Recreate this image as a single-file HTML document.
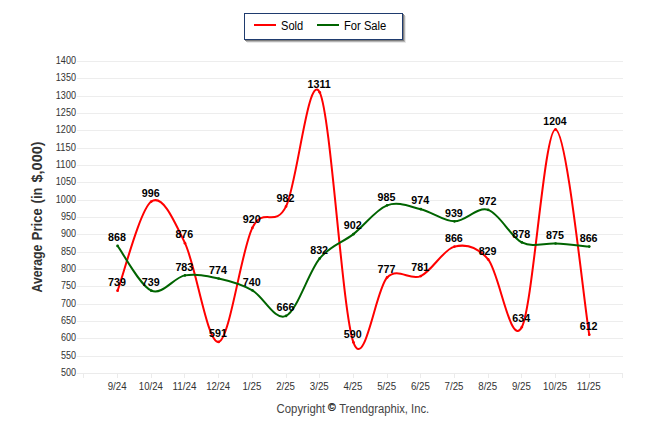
<!DOCTYPE html>
<html><head><meta charset="utf-8"><title>Average Price</title>
<style>html,body{margin:0;padding:0;background:#fff;}svg{display:block;}text{font-family:"Liberation Sans",sans-serif;}</style></head><body>
<svg width="646" height="434" viewBox="0 0 646 434">
<rect width="646" height="434" fill="#ffffff"/>
<g stroke="#ededed" stroke-width="1" shape-rendering="crispEdges">
<line x1="77" x2="623" y1="61.5" y2="61.5"/>
<line x1="77" x2="623" y1="78.5" y2="78.5"/>
<line x1="77" x2="623" y1="96.5" y2="96.5"/>
<line x1="77" x2="623" y1="113.5" y2="113.5"/>
<line x1="77" x2="623" y1="130.5" y2="130.5"/>
<line x1="77" x2="623" y1="148.5" y2="148.5"/>
<line x1="77" x2="623" y1="165.5" y2="165.5"/>
<line x1="77" x2="623" y1="182.5" y2="182.5"/>
<line x1="77" x2="623" y1="200.5" y2="200.5"/>
<line x1="77" x2="623" y1="217.5" y2="217.5"/>
<line x1="77" x2="623" y1="234.5" y2="234.5"/>
<line x1="77" x2="623" y1="252.5" y2="252.5"/>
<line x1="77" x2="623" y1="269.5" y2="269.5"/>
<line x1="77" x2="623" y1="286.5" y2="286.5"/>
<line x1="77" x2="623" y1="304.5" y2="304.5"/>
<line x1="77" x2="623" y1="321.5" y2="321.5"/>
<line x1="77" x2="623" y1="338.5" y2="338.5"/>
<line x1="77" x2="623" y1="356.5" y2="356.5"/>
</g>
<g stroke="#ebebeb" stroke-width="1" shape-rendering="crispEdges">
<line x1="77" x2="623" y1="373.5" y2="373.5"/>
<line x1="83.5" x2="83.5" y1="373" y2="378"/>
<line x1="117.5" x2="117.5" y1="373" y2="378"/>
<line x1="151.5" x2="151.5" y1="373" y2="378"/>
<line x1="184.5" x2="184.5" y1="373" y2="378"/>
<line x1="218.5" x2="218.5" y1="373" y2="378"/>
<line x1="252.5" x2="252.5" y1="373" y2="378"/>
<line x1="286.5" x2="286.5" y1="373" y2="378"/>
<line x1="319.5" x2="319.5" y1="373" y2="378"/>
<line x1="353.5" x2="353.5" y1="373" y2="378"/>
<line x1="387.5" x2="387.5" y1="373" y2="378"/>
<line x1="420.5" x2="420.5" y1="373" y2="378"/>
<line x1="454.5" x2="454.5" y1="373" y2="378"/>
<line x1="488.5" x2="488.5" y1="373" y2="378"/>
<line x1="521.5" x2="521.5" y1="373" y2="378"/>
<line x1="555.5" x2="555.5" y1="373" y2="378"/>
<line x1="589.5" x2="589.5" y1="373" y2="378"/>
<line x1="622.5" x2="622.5" y1="373" y2="378"/>
</g>
<g font-size="11" fill="#333" text-anchor="end">
<text x="76" y="64.00" textLength="20.2" lengthAdjust="spacingAndGlyphs">1400</text>
<text x="76" y="81.00" textLength="20.2" lengthAdjust="spacingAndGlyphs">1350</text>
<text x="76" y="99.00" textLength="20.2" lengthAdjust="spacingAndGlyphs">1300</text>
<text x="76" y="116.00" textLength="20.2" lengthAdjust="spacingAndGlyphs">1250</text>
<text x="76" y="133.00" textLength="20.2" lengthAdjust="spacingAndGlyphs">1200</text>
<text x="76" y="151.00" textLength="20.2" lengthAdjust="spacingAndGlyphs">1150</text>
<text x="76" y="168.00" textLength="20.2" lengthAdjust="spacingAndGlyphs">1100</text>
<text x="76" y="185.00" textLength="20.2" lengthAdjust="spacingAndGlyphs">1050</text>
<text x="76" y="203.00" textLength="20.2" lengthAdjust="spacingAndGlyphs">1000</text>
<text x="76" y="220.00" textLength="15.1" lengthAdjust="spacingAndGlyphs">950</text>
<text x="76" y="237.00" textLength="15.1" lengthAdjust="spacingAndGlyphs">900</text>
<text x="76" y="255.00" textLength="15.1" lengthAdjust="spacingAndGlyphs">850</text>
<text x="76" y="272.00" textLength="15.1" lengthAdjust="spacingAndGlyphs">800</text>
<text x="76" y="289.00" textLength="15.1" lengthAdjust="spacingAndGlyphs">750</text>
<text x="76" y="307.00" textLength="15.1" lengthAdjust="spacingAndGlyphs">700</text>
<text x="76" y="324.00" textLength="15.1" lengthAdjust="spacingAndGlyphs">650</text>
<text x="76" y="341.00" textLength="15.1" lengthAdjust="spacingAndGlyphs">600</text>
<text x="76" y="359.00" textLength="15.1" lengthAdjust="spacingAndGlyphs">550</text>
<text x="76" y="376.00" textLength="15.1" lengthAdjust="spacingAndGlyphs">500</text>
</g>
<g font-size="11" fill="#333" text-anchor="middle">
<text x="117.14" y="390" textLength="18.9" lengthAdjust="spacingAndGlyphs">9/24</text>
<text x="150.83" y="390" textLength="24.0" lengthAdjust="spacingAndGlyphs">10/24</text>
<text x="184.52" y="390" textLength="24.0" lengthAdjust="spacingAndGlyphs">11/24</text>
<text x="218.21" y="390" textLength="24.0" lengthAdjust="spacingAndGlyphs">12/24</text>
<text x="251.90" y="390" textLength="18.9" lengthAdjust="spacingAndGlyphs">1/25</text>
<text x="285.59" y="390" textLength="18.9" lengthAdjust="spacingAndGlyphs">2/25</text>
<text x="319.28" y="390" textLength="18.9" lengthAdjust="spacingAndGlyphs">3/25</text>
<text x="352.97" y="390" textLength="18.9" lengthAdjust="spacingAndGlyphs">4/25</text>
<text x="386.66" y="390" textLength="18.9" lengthAdjust="spacingAndGlyphs">5/25</text>
<text x="420.35" y="390" textLength="18.9" lengthAdjust="spacingAndGlyphs">6/25</text>
<text x="454.04" y="390" textLength="18.9" lengthAdjust="spacingAndGlyphs">7/25</text>
<text x="487.73" y="390" textLength="18.9" lengthAdjust="spacingAndGlyphs">8/25</text>
<text x="521.42" y="390" textLength="18.9" lengthAdjust="spacingAndGlyphs">9/25</text>
<text x="555.11" y="390" textLength="24.0" lengthAdjust="spacingAndGlyphs">10/25</text>
<text x="588.80" y="390" textLength="24.0" lengthAdjust="spacingAndGlyphs">11/25</text>
</g>
<text transform="translate(42.0,292.5) rotate(-90)" font-size="14" font-weight="bold" fill="#333" textLength="47.9" lengthAdjust="spacingAndGlyphs">Average</text>
<text transform="translate(42.0,240.2) rotate(-90)" font-size="14" font-weight="bold" fill="#333" textLength="31.9" lengthAdjust="spacingAndGlyphs">Price</text>
<text transform="translate(42.0,203.4) rotate(-90)" font-size="14" font-weight="bold" fill="#333" textLength="15.8" lengthAdjust="spacingAndGlyphs">(in</text>
<text transform="translate(42.0,182.5) rotate(-90)" font-size="14" font-weight="bold" fill="#333" textLength="41.1" lengthAdjust="spacingAndGlyphs">$,000)</text>
<path d="M117.59 290.65 C123.20 275.80 140.05 209.47 151.28 201.55 C162.51 193.64 173.74 219.75 184.97 243.15 C196.20 266.55 207.43 344.50 218.66 341.95 C229.89 339.41 241.12 250.49 252.35 227.90 C263.58 205.31 274.81 229.00 286.04 206.41 C297.27 183.82 308.50 69.70 319.73 92.35 C330.96 115.00 342.19 311.45 353.42 342.30 C364.65 373.15 375.88 288.51 387.11 277.47 C398.34 266.44 409.57 281.23 420.80 276.09 C432.03 270.94 443.26 249.39 454.49 246.62 C465.72 243.85 476.95 246.04 488.18 259.45 C499.41 272.85 510.64 348.71 521.87 327.05 C533.10 305.38 544.33 128.18 555.56 129.45 C566.79 130.72 583.63 300.47 589.25 334.67" fill="none" stroke="#ff0000" stroke-width="2" stroke-linecap="round"/>
<circle cx="117.59" cy="290.65" r="1.35" fill="#ff0000"/>
<circle cx="151.28" cy="201.55" r="1.35" fill="#ff0000"/>
<circle cx="184.97" cy="243.15" r="1.35" fill="#ff0000"/>
<circle cx="218.66" cy="341.95" r="1.35" fill="#ff0000"/>
<circle cx="252.35" cy="227.90" r="1.35" fill="#ff0000"/>
<circle cx="286.04" cy="206.41" r="1.35" fill="#ff0000"/>
<circle cx="319.73" cy="92.35" r="1.35" fill="#ff0000"/>
<circle cx="353.42" cy="342.30" r="1.35" fill="#ff0000"/>
<circle cx="387.11" cy="277.47" r="1.35" fill="#ff0000"/>
<circle cx="420.80" cy="276.09" r="1.35" fill="#ff0000"/>
<circle cx="454.49" cy="246.62" r="1.35" fill="#ff0000"/>
<circle cx="488.18" cy="259.45" r="1.35" fill="#ff0000"/>
<circle cx="521.87" cy="327.05" r="1.35" fill="#ff0000"/>
<circle cx="555.56" cy="129.45" r="1.35" fill="#ff0000"/>
<circle cx="589.25" cy="334.67" r="1.35" fill="#ff0000"/>
<path d="M117.59 245.93 C123.20 253.38 140.05 285.74 151.28 290.65 C162.51 295.56 173.74 277.42 184.97 275.39 C196.20 273.37 207.43 276.03 218.66 278.51 C229.89 281.00 241.12 284.06 252.35 290.30 C263.58 296.54 274.81 321.27 286.04 315.95 C297.27 310.64 308.50 272.04 319.73 258.41 C330.96 244.77 342.19 242.98 353.42 234.14 C364.65 225.30 375.88 209.53 387.11 205.37 C398.34 201.21 409.57 206.52 420.80 209.18 C432.03 211.84 443.26 221.20 454.49 221.31 C465.72 221.43 476.95 206.35 488.18 209.87 C499.41 213.40 510.64 236.86 521.87 242.46 C533.10 248.06 544.33 242.81 555.56 243.50 C566.79 244.19 583.63 246.10 589.25 246.62" fill="none" stroke="#006400" stroke-width="2" stroke-linecap="round"/>
<circle cx="117.59" cy="245.93" r="1.35" fill="#006400"/>
<circle cx="151.28" cy="290.65" r="1.35" fill="#006400"/>
<circle cx="184.97" cy="275.39" r="1.35" fill="#006400"/>
<circle cx="218.66" cy="278.51" r="1.35" fill="#006400"/>
<circle cx="252.35" cy="290.30" r="1.35" fill="#006400"/>
<circle cx="286.04" cy="315.95" r="1.35" fill="#006400"/>
<circle cx="319.73" cy="258.41" r="1.35" fill="#006400"/>
<circle cx="353.42" cy="234.14" r="1.35" fill="#006400"/>
<circle cx="387.11" cy="205.37" r="1.35" fill="#006400"/>
<circle cx="420.80" cy="209.18" r="1.35" fill="#006400"/>
<circle cx="454.49" cy="221.31" r="1.35" fill="#006400"/>
<circle cx="488.18" cy="209.87" r="1.35" fill="#006400"/>
<circle cx="521.87" cy="242.46" r="1.35" fill="#006400"/>
<circle cx="555.56" cy="243.50" r="1.35" fill="#006400"/>
<circle cx="589.25" cy="246.62" r="1.35" fill="#006400"/>
<g font-size="11" font-weight="bold" fill="#000" text-anchor="middle">
<text x="116.99" y="286" textLength="17.9" lengthAdjust="spacingAndGlyphs">739</text>
<text x="150.68" y="197" textLength="17.9" lengthAdjust="spacingAndGlyphs">996</text>
<text x="184.37" y="238" textLength="17.9" lengthAdjust="spacingAndGlyphs">876</text>
<text x="218.06" y="337" textLength="17.9" lengthAdjust="spacingAndGlyphs">591</text>
<text x="251.75" y="223" textLength="17.9" lengthAdjust="spacingAndGlyphs">920</text>
<text x="285.44" y="202" textLength="17.9" lengthAdjust="spacingAndGlyphs">982</text>
<text x="319.13" y="88" textLength="23.2" lengthAdjust="spacingAndGlyphs">1311</text>
<text x="352.82" y="338" textLength="17.9" lengthAdjust="spacingAndGlyphs">590</text>
<text x="386.51" y="273" textLength="17.9" lengthAdjust="spacingAndGlyphs">777</text>
<text x="420.20" y="271" textLength="17.9" lengthAdjust="spacingAndGlyphs">781</text>
<text x="453.89" y="242" textLength="17.9" lengthAdjust="spacingAndGlyphs">866</text>
<text x="487.58" y="255" textLength="17.9" lengthAdjust="spacingAndGlyphs">829</text>
<text x="521.27" y="322" textLength="17.9" lengthAdjust="spacingAndGlyphs">634</text>
<text x="554.96" y="125" textLength="23.2" lengthAdjust="spacingAndGlyphs">1204</text>
<text x="588.65" y="330" textLength="17.9" lengthAdjust="spacingAndGlyphs">612</text>
<text x="116.99" y="241" textLength="17.9" lengthAdjust="spacingAndGlyphs">868</text>
<text x="150.68" y="286" textLength="17.9" lengthAdjust="spacingAndGlyphs">739</text>
<text x="184.37" y="271" textLength="17.9" lengthAdjust="spacingAndGlyphs">783</text>
<text x="218.06" y="274" textLength="17.9" lengthAdjust="spacingAndGlyphs">774</text>
<text x="251.75" y="286" textLength="17.9" lengthAdjust="spacingAndGlyphs">740</text>
<text x="285.44" y="311" textLength="17.9" lengthAdjust="spacingAndGlyphs">666</text>
<text x="319.13" y="254" textLength="17.9" lengthAdjust="spacingAndGlyphs">832</text>
<text x="352.82" y="229" textLength="17.9" lengthAdjust="spacingAndGlyphs">902</text>
<text x="386.51" y="201" textLength="17.9" lengthAdjust="spacingAndGlyphs">985</text>
<text x="420.20" y="204" textLength="17.9" lengthAdjust="spacingAndGlyphs">974</text>
<text x="453.89" y="217" textLength="17.9" lengthAdjust="spacingAndGlyphs">939</text>
<text x="487.58" y="205" textLength="17.9" lengthAdjust="spacingAndGlyphs">972</text>
<text x="521.27" y="238" textLength="17.9" lengthAdjust="spacingAndGlyphs">878</text>
<text x="554.96" y="239" textLength="17.9" lengthAdjust="spacingAndGlyphs">875</text>
<text x="588.65" y="242" textLength="17.9" lengthAdjust="spacingAndGlyphs">866</text>
</g>
<rect x="247" y="16" width="159" height="27" fill="#e9e9e9"/><rect x="246" y="15" width="159" height="27" fill="#b4b4b4"/><rect x="245" y="14" width="159" height="27" fill="#7e7e7e"/>
<rect x="244.5" y="13.5" width="158" height="26" fill="#fff" stroke="#1f3b6e" stroke-width="1"/>
<line x1="254" x2="276" y1="25" y2="25" stroke="#ff0000" stroke-width="2" shape-rendering="crispEdges"/>
<line x1="317" x2="339" y1="25" y2="25" stroke="#006400" stroke-width="2" shape-rendering="crispEdges"/>
<g font-size="12" fill="#000"><text x="281.0" y="29.7" textLength="22.2" lengthAdjust="spacingAndGlyphs">Sold</text><text x="344" y="29.7" textLength="42.3" lengthAdjust="spacingAndGlyphs">For Sale</text></g>
<g font-size="12" fill="#444"><text x="276.6" y="413.4" textLength="48.6" lengthAdjust="spacingAndGlyphs">Copyright</text><text x="331.8" y="411.2" font-size="10.5" text-anchor="middle" fill="#333" stroke="#333" stroke-width="0.35">©</text><text x="339.2" y="413.4" textLength="90" lengthAdjust="spacingAndGlyphs">Trendgraphix, Inc.</text></g>
</svg></body></html>
